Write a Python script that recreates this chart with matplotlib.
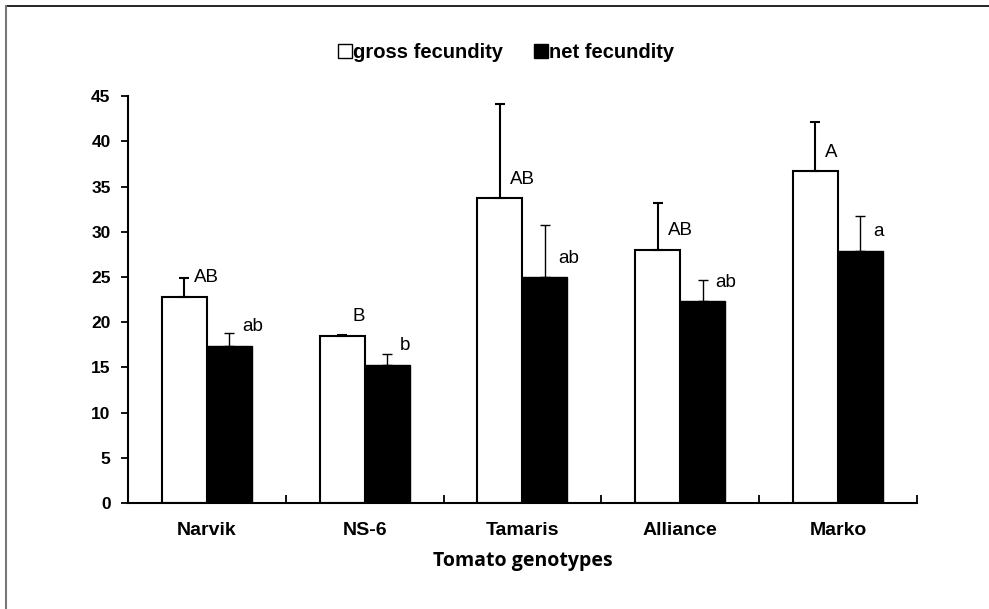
import numpy as np
import matplotlib

matplotlib.use("Agg")
import matplotlib.pyplot as plt
from matplotlib.lines import Line2D

# data
genotypes = ["Narvik", "NS-6", "Tamaris", "Alliance", "Marko"]
gross = [22.8, 18.5, 33.7, 28.0, 36.7]
gross_err = [2.1, 0.1, 10.4, 5.2, 5.5]
net = [17.4, 15.3, 25.0, 22.3, 27.9]
net_err = [1.4, 1.2, 5.7, 2.4, 3.8]
gross_letters = ["AB", "B", "AB", "AB", "A"]
net_letters = ["ab", "b", "ab", "ab", "a"]

plt.rcParams["font.family"] = ["Liberation Sans", "DejaVu Sans"]

fig = plt.figure(figsize=(9.89, 6.09), dpi=100)
ax = fig.add_axes([0.1294, 0.174, 0.7976, 0.668])

x = np.arange(len(genotypes))
w = 0.285
ax.bar(x - w / 2, gross, w, color="white", edgecolor="black", linewidth=1.5, zorder=2)
ax.bar(x + w / 2, net, w, color="black", edgecolor="black", linewidth=1.0, zorder=2)

# upper error bars only
ax.errorbar(x - w / 2, gross, yerr=[np.zeros(5), gross_err], fmt="none",
            ecolor="black", elinewidth=1.5, capsize=3.5, capthick=1.5, zorder=3)
ax.errorbar(x + w / 2, net, yerr=[np.zeros(5), net_err], fmt="none",
            ecolor="black", elinewidth=1.0, capsize=3.5, capthick=1.0, zorder=3)

for i in range(len(genotypes)):
    ax.text(x[i] - w / 2 + 0.063, gross[i] + 2.1, gross_letters[i],
            fontsize=13.5, va="center", ha="left")
    ax.text(x[i] + w / 2 + 0.083, net[i] + 2.1, net_letters[i],
            fontsize=13.5, va="center", ha="left")

ax.set_xlim(-0.5, len(genotypes) - 0.5)
ax.set_ylim(0, 45)
ax.set_yticks(np.arange(0, 46, 5))
ax.set_xticks(x)
ax.set_xticklabels(genotypes, fontsize=14, fontweight="bold")
ax.set_xticks(np.arange(0.5, len(genotypes), 1), minor=True)
ax.tick_params(axis="x", which="major", length=0, pad=14)
ax.tick_params(axis="x", which="minor", direction="in", length=6, width=1.3)
ax.tick_params(axis="y", direction="out", length=5, width=1.3, labelsize=12.5, pad=7.5)
for lab in ax.get_yticklabels():
    lab.set_fontweight("bold")
ax.spines["top"].set_visible(False)
ax.spines["right"].set_visible(False)
ax.spines["left"].set_linewidth(1.5)
ax.spines["bottom"].set_linewidth(1.5)
ax.set_xlabel("Tomato genotypes", fontsize=14, fontweight="bold",
              family=["Open Sans", "DejaVu Sans"], labelpad=8)

handles = [
    Line2D([], [], marker="s", linestyle="none", markersize=10,
           markerfacecolor="white", markeredgecolor="black", markeredgewidth=1),
    Line2D([], [], marker="s", linestyle="none", markersize=10,
           markerfacecolor="black", markeredgecolor="black"),
]
fig.legend(handles, ["gross fecundity", "net fecundity"], loc="center",
           bbox_to_anchor=(0.511, 0.913), ncol=2, frameon=False,
           prop={"weight": "bold", "size": 14.5}, handletextpad=0.0,
           columnspacing=1.5, handlelength=0.8)

# outer frame lines (top and left)
fig.add_artist(Line2D([0.006, 1.0], [0.990, 0.990], transform=fig.transFigure,
                      color="black", linewidth=1.2))
fig.add_artist(Line2D([0.006, 0.006], [0.0, 0.990], transform=fig.transFigure,
                      color="#777777", linewidth=1.5))

fig.savefig("out.png", dpi=100)
